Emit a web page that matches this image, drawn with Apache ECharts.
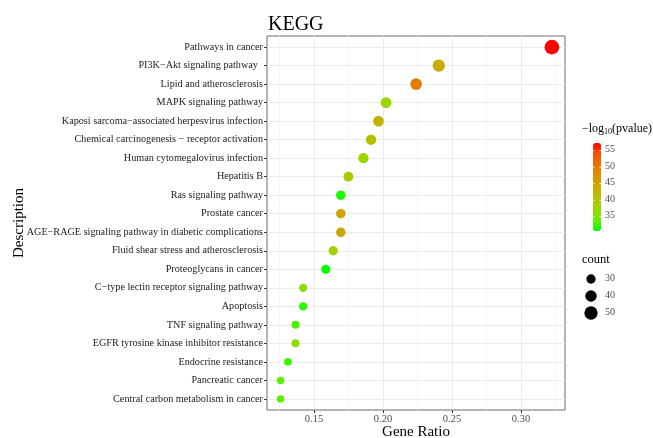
<!DOCTYPE html>
<html>
<head>
<meta charset="utf-8">
<script src="https://cdn.jsdelivr.net/npm/echarts@6/dist/echarts.min.js"></script>
<style>
html,body{margin:0;padding:0;background:#fff;}
#chart{width:653px;height:438px;}
</style>
</head>
<body>
<div id="chart"></div>
<script>
const categories = [
  "Pathways in cancer",
  "PI3K\u2212Akt signaling pathway  ",
  "Lipid and atherosclerosis",
  "MAPK signaling pathway",
  "Kaposi sarcoma\u2212associated herpesvirus infection",
  "Chemical carcinogenesis \u2212 receptor activation",
  "Human cytomegalovirus infection",
  "Hepatitis B",
  "Ras signaling pathway",
  "Prostate cancer",
  "AGE\u2212RAGE signaling pathway in diabetic complications",
  "Fluid shear stress and atherosclerosis",
  "Proteoglycans in cancer",
  "C\u2212type lectin receptor signaling pathway",
  "Apoptosis",
  "TNF signaling pathway",
  "EGFR tyrosine kinase inhibitor resistance",
  "Endocrine resistance",
  "Pancreatic cancer",
  "Central carbon metabolism in cancer"
];
const geneRatio = [0.3224,0.2404,0.2240,0.2022,0.1967,0.1913,0.1858,0.1749,0.1694,0.1694,0.1694,0.1639,0.1585,0.1421,0.1421,0.1366,0.1366,0.1311,0.1257,0.1257];
const counts = [59,44,41,37,36,35,34,32,31,31,31,30,29,26,26,25,25,24,23,23];
const logP = [57.3,44.0,50.1,37.4,43.2,40.8,37.9,39.2,31.5,44.8,44.8,38.7,30.7,36.0,32.0,32.8,36.5,32.5,33.3,33.3];
const xTicks = [0.15,0.20,0.25,0.30];
const xMinorTicks = [0.125,0.175,0.225,0.275,0.325];
const colorTicks = [35,40,45,50,55];
const sizeTicks = [30,40,50];

const FONT = "'Liberation Serif', 'DejaVu Serif', serif";
const xMin = 0.1159, xMax = 0.3319;
const pMin = Math.min(...logP), pMax = Math.max(...logP);
function sizeOf(c){ return Math.sqrt(86.5 + 4.5*(c - 30)); }

const gradient = ['#00FF00','#70EB00','#98D700','#B3C200','#C8AB00','#DA9200','#E87600','#F45300','#FF0000'];

const chart = echarts.init(document.getElementById('chart'), null, {renderer:'canvas'});

const data = categories.map((c,i)=>[geneRatio[i], i, logP[i], counts[i]]);
const yIdx = categories.map((c,i)=>i);

// legend geometry
const barLeft = 593, barTop = 143, barW = 8, barH = 88;
const graphics = [];
graphics.push({type:'text', left:582, top:123, style:{
  text:'{n|\u2212log}{s|10}{n|(pvalue)}',
  rich:{n:{fontFamily:FONT,fontSize:12,fill:'#000',lineHeight:14},
        s:{fontFamily:FONT,fontSize:8,fill:'#000',lineHeight:10,verticalAlign:'bottom'}}
}});
colorTicks.forEach(v=>{
  const y = barTop + (pMax - v)/(pMax - pMin)*barH;
  graphics.push({type:'text', left:605, top:y-6, style:{text:String(v), fontFamily:FONT, fontSize:10, fill:'#4D4D4D'}});
  graphics.push({type:'line', shape:{x1:barLeft, y1:y, x2:barLeft+1.6, y2:y}, style:{stroke:'rgba(255,255,255,0.8)', lineWidth:1}, z:100});
  graphics.push({type:'line', shape:{x1:barLeft+barW-1.6, y1:y, x2:barLeft+barW, y2:y}, style:{stroke:'rgba(255,255,255,0.8)', lineWidth:1}, z:100});
});
graphics.push({type:'text', left:582, top:253, style:{text:'count', fontFamily:FONT, fontSize:12.5, fill:'#000'}});
sizeTicks.forEach((v,k)=>{
  const cy = 279 + k*17;
  graphics.push({type:'circle', shape:{cx:591, cy:cy, r:sizeOf(v)/2}, style:{fill:'#000'}});
  graphics.push({type:'text', left:605, top:cy-6, style:{text:String(v), fontFamily:FONT, fontSize:10, fill:'#4D4D4D'}});
});

const option = {
  backgroundColor:'#fff',
  animation:false,
  title:{text:'KEGG', left:263, top:10, textStyle:{fontFamily:FONT, fontSize:20, fontWeight:'normal', color:'#000'}},
  grid:{left:267, right:88, top:36, bottom:28, show:true, borderColor:'#6b6b6b', borderWidth:1, backgroundColor:'transparent', outerBoundsMode:'none', containLabel:false},
  xAxis:[{
    type:'value', min:xMin, max:xMax, position:'bottom',
    name:'Gene Ratio', nameLocation:'middle', nameGap:15, nameMoveOverlap:false,
    nameTextStyle:{fontFamily:FONT, fontSize:15, color:'#000'},
    axisLine:{show:false, onZero:false},
    axisTick:{show:true, inside:false, length:3, customValues:xTicks, lineStyle:{color:'#333'}},
    axisLabel:{customValues:xTicks, margin:4, fontFamily:FONT, fontSize:10.5, color:'#4D4D4D', formatter:v=>v.toFixed(2)},
    splitLine:{show:true, lineStyle:{color:'#EBEBEB', width:1}},
    z:1
  },{
    type:'value', min:xMin, max:xMax, position:'bottom', gridIndex:0,
    axisLine:{show:false, onZero:false},
    axisTick:{show:false, customValues:xMinorTicks},
    axisLabel:{show:false, customValues:xMinorTicks},
    splitLine:{show:true, lineStyle:{color:'#F2F2F2', width:0.8}}
  }],
  yAxis:{
    type:'value', min:-0.6, max:categories.length-1+0.6, inverse:true,
    name:'Description', nameLocation:'middle', nameGap:240, nameRotate:90, nameMoveOverlap:false,
    nameTextStyle:{fontFamily:FONT, fontSize:15, color:'#000'},
    axisLine:{show:false, onZero:false},
    axisTick:{show:true, inside:false, length:3, customValues:yIdx, lineStyle:{color:'#333'}},
    axisLabel:{customValues:yIdx, margin:4, fontFamily:FONT, fontSize:10.2, color:'#222', formatter:v=>categories[Math.round(v)]},
    splitLine:{show:true, lineStyle:{color:'#EBEBEB', width:1}}
  },
  visualMap:{
    type:'continuous', dimension:2, min:pMin, max:pMax, seriesIndex:0,
    orient:'vertical', left:barLeft, top:barTop, itemWidth:barW, itemHeight:barH,
    padding:0, calculable:false, hoverLink:false, text:null, showLabel:false,
    inRange:{color:gradient}
  },
  series:[{
    type:'scatter', xAxisIndex:0, yAxisIndex:0,
    data:data,
    symbol:'circle',
    symbolSize:(d)=>sizeOf(d[3]),
    itemStyle:{opacity:1},
    z:5
  }],
  graphic:graphics
};
chart.setOption(option);
</script>
</body>
</html>
